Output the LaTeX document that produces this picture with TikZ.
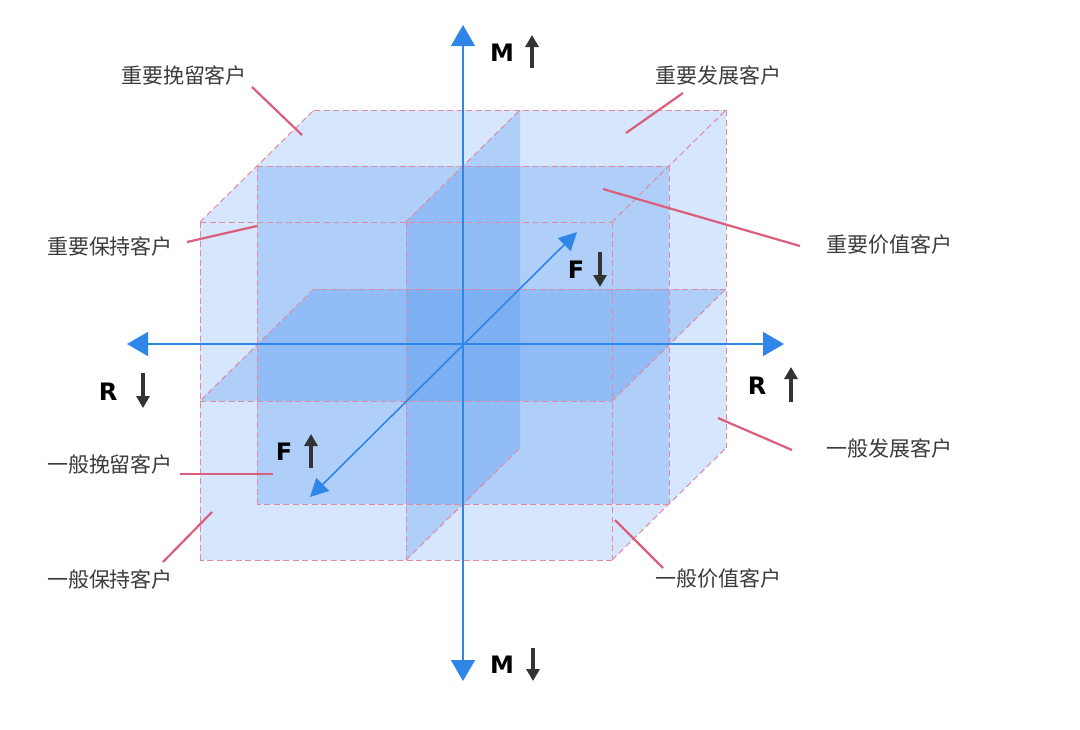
\documentclass[tikz,border=0pt]{standalone}
\usepackage{fontspec}
\newfontfamily\cjkfont{Noto Sans CJK SC}
\newfontfamily\letterfont{DejaVu Sans}
\usetikzlibrary{arrows.meta}

\definecolor{axisBlue}{HTML}{2F86E8}
\definecolor{cubeLight}{HTML}{D6E6FC}
\definecolor{planeBlue}{HTML}{4A90EE}
\definecolor{edgePink}{HTML}{E08AA2}
\definecolor{leaderPink}{HTML}{DB5E7C}
\definecolor{labelGray}{HTML}{3C3C3C}
\definecolor{tickDark}{HTML}{333333}

\begin{document}
\begin{tikzpicture}
[x=1pt,y=-1pt,
  segLabel/.style={font=\cjkfont\fontsize{21}{21}\selectfont,text=labelGray,inner sep=0pt},%
  axisLabel/.style={font=\letterfont\bfseries\fontsize{24}{24}\selectfont,inner sep=0pt},%
  cubeEdge/.style={draw=edgePink,dash pattern=on 6pt off 3.5pt,line width=1pt},%
  planeFill/.style={fill=planeBlue,fill opacity=0.28},%
  leaderLine/.style={draw=leaderPink,line width=2.2pt},%
  axisLine/.style={draw=axisBlue,line width=1.6pt,{Triangle[width=24pt,length=21pt]}-{Triangle[width=24pt,length=21pt]}},%
  depthLine/.style={draw=axisBlue,line width=1.6pt,{Triangle[width=18pt,length=18pt]}-{Triangle[width=18pt,length=18pt]}},%
  dirArrow/.style={draw=tickDark,line width=3.2pt,-{Triangle[width=13pt,length=12pt]}}]
\fill[white] (0,0) rectangle (1080,729);
\useasboundingbox (0,0) rectangle (1080,729);
%% corners of the cube and of the three cutting planes
\foreach \cname/\x/\y in {fa/200/222, fb/612/222, fc/612/560, fd/200/560,
  ba/314/110, bb/726/110, bc/726/448,
  ma/257/166, mb/669/166, mc/669/504, md/257/504,
  hfl/200/401, hfr/612/401, hbl/314/289, hbr/726/289,
  vft/406/222, vfb/406/560, vbt/520/110, vbb/520/448}
{
  \coordinate (\cname) at (\x,\y);
}
%% fill the cube and the planes
\fill[cubeLight] (fd) -- (fa) -- (ba) -- (bb) -- (bc) -- (fc) -- cycle;
\fill[planeFill] (ma) rectangle (mc);
\fill[planeFill] (hfl) -- (hfr) -- (hbr) -- (hbl) -- cycle;
\fill[planeFill] (vft) -- (vbt) -- (vbb) -- (vfb) -- cycle;
%% dashed edges
\foreach \u/\v in {fa/fb, fb/fc, fc/fd, fd/fa, ba/bb, bb/bc, fa/ba, fb/bb, fc/bc,
  ma/mb, mb/mc, mc/md, md/ma, hfl/hfr, hfr/hbr, hbr/hbl, hbl/hfl,
  vft/vfb, vft/vbt, vfb/vbb}
{
  \draw[cubeEdge] (\u) -- (\v);
}
%% the three axes
\coordinate (mtop) at (463,25);
\coordinate (mbot) at (463,681);
\coordinate (rleft) at (127,344);
\coordinate (rright) at (784,344);
\coordinate (ftip) at (577,232);
\coordinate (ftail) at (310,497);
\draw[axisLine] (mbot) -- (mtop);
\draw[axisLine] (rleft) -- (rright);
\draw[depthLine] (ftail) -- (ftip);
%% axis letters with their direction arrows
\foreach \nodename/\x/\y/\txt/\ax/\ay/\bx/\by in {mup/502/53/M/532/68/532/35,
  mdown/502/665/M/533/648/533/681, rdown/108/392/R/143/373/143/408,
  rup/757/386/R/791/402/791/367, fdown/576/270/F/600/252/600/287,
  fup/284/452/F/311/468/311/434}
{
  \node[axisLabel] (\nodename) at (\x,\y) {\txt};
  \coordinate (\nodename-s) at (\ax,\ay);
  \coordinate (\nodename-e) at (\bx,\by);
  \draw[dirArrow] (\nodename-s) -- (\nodename-e);
}
%% segment names and their leaders
\foreach \nodename/\x/\y/\txt/\ax/\ay/\bx/\by in {
  keepImp/184/75/重要挽留客户/252/87/302/135,
  devImp/718/75/重要发展客户/683/93/626/133,
  holdImp/110/246/重要保持客户/187/242/257/226,
  valImp/889/245/重要价值客户/603/189/800/246,
  keepGen/110/464/一般挽留客户/180/474/273/474,
  holdGen/110/579/一般保持客户/212/512/163/562,
  devGen/889/448/一般发展客户/718/418/792/450,
  valGen/718/579/一般价值客户/615/520/663/568}
{
  \node[segLabel] (\nodename) at (\x,\y) {\txt};
  \coordinate (\nodename-a) at (\ax,\ay);
  \coordinate (\nodename-b) at (\bx,\by);
  \draw[leaderLine] (\nodename-a) -- (\nodename-b);
}
\end{tikzpicture}
\end{document}
